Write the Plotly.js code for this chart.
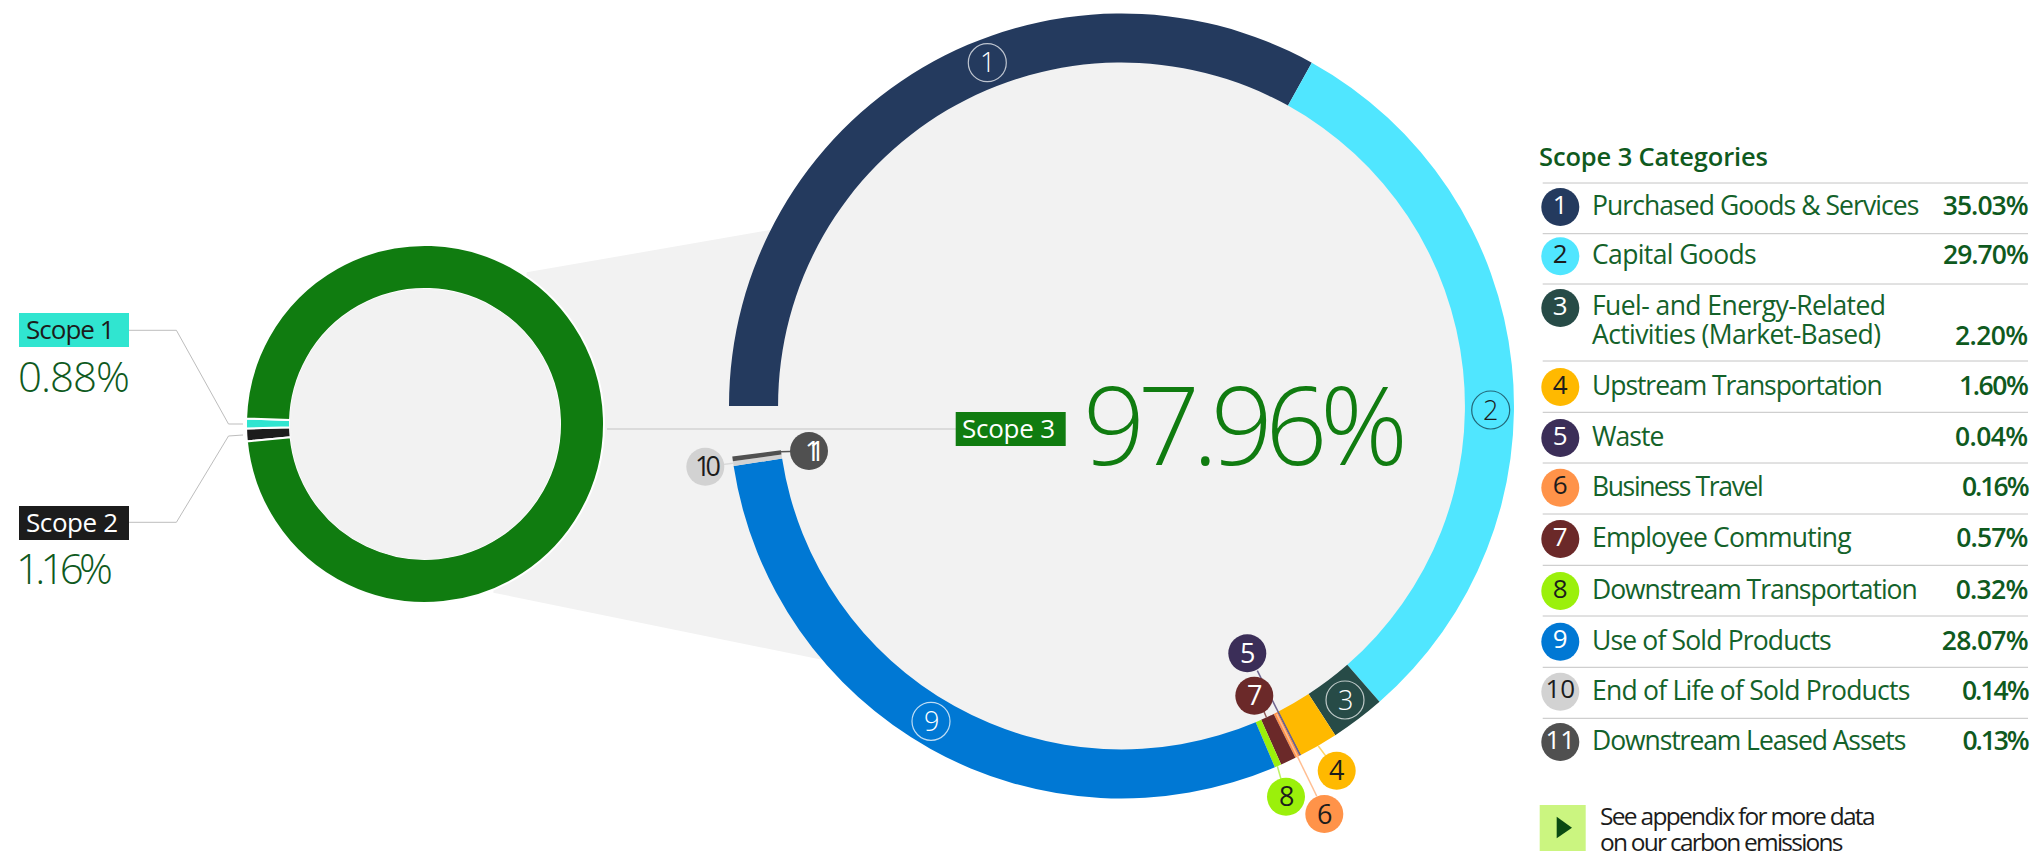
<!DOCTYPE html>
<html>
<head>
<meta charset="utf-8">
<script src="https://cdn.plot.ly/plotly-3.0.1.min.js"></script>
<style>html,body{margin:0;padding:0;background:#fff}#chart{width:2031px;height:853px}</style>
</head>
<body>
<div id="chart"></div>
<script>
// ---- Data ----
const scopeLabels = ['Scope 2', 'Scope 1', 'Scope 3'];
const scopeValues = [1.16, 0.88, 97.96];
const scopeColors = ['#1C1C1C', '#30E5D0', '#107C10'];

const categoryNames = ['Purchased Goods & Services', 'Capital Goods', 'Fuel- and Energy-Related<br>Activities (Market-Based)',
  'Upstream Transportation', 'Waste', 'Business Travel', 'Employee Commuting', 'Downstream Transportation',
  'Use of Sold Products', 'End of Life of Sold Products', 'Downstream Leased Assets'];
const categoryLabels = ['35.03%', '29.70%', '2.20%', '1.60%', '0.04%', '0.16%', '0.57%', '0.32%', '28.07%', '0.14%', '0.13%'];
const categoryNumbers = ['1', '2', '3', '4', '5', '6', '7', '8', '9', '10', '11'];
const categoryColors = ['#243A5E', '#50E6FF', '#274B47', '#FFB900', '#3B2E58', '#FF9349', '#6B2929', '#9BF00B', '#0078D4', '#D2D2D2', '#505050'];
const numberColors = ['#fff', '#1c1c1c', '#fff', '#1c1c1c', '#fff', '#1c1c1c', '#fff', '#1c1c1c', '#fff', '#1c1c1c', '#fff'];
// Arc length each slice actually occupies in the drawn ring (degrees)
const categoryArcs = [119, 109.9, 8.1, 5.8, 0.2, 0.7, 2.3, 1.0, 104.2, 0.7, 0.7];
const ringGap = 7.4;

// ---- Layout (pixels) ----
const W = 2031, H = 853;
const bigC = {x: 1121.5, y: 406, r: 392.5}, leftC = {x: 425, y: 424, r: 179};
const dom = c => ({x: [(c.x - c.r) / W, (c.x + c.r) / W], y: [1 - (c.y + c.r) / H, 1 - (c.y - c.r) / H]});
const legendRowY = [207, 256.3, 308, 387, 438, 487.7, 539, 591, 641.7, 691.7, 742];
const legendX = 1560.3;
const ruleY = [183, 233.7, 284, 361, 412.3, 463, 514, 565.3, 616, 667.3, 718.3];
const nameTargets = [[325.3], [162.7], [292, 287], [288.7], [70.3], [169.7], [257.7], [323.7], [237.7], [316.3], [312.3]];
const valueTargets = [85, 84.7, 72.3, 69, 72.3, 66.7, 71.3, 71.7, 85.7, 66.7, 66.3];
const valueY = [207, 256.3, 337, 387, 438, 487.7, 539, 591, 641.7, 691.7, 742];
const nameY = [[207], [256.3], [306.7, 336], [387], [438], [487.7], [539], [591], [641.7], [691.7], [742]];
const badges = [[987.3, 62.7], [1490.7, 410], [1345, 700], [1336.7, 770.7], [1247.3, 653.3], [1324.3, 814], [1254.3, 695.7], [1286, 796.7], [931, 721.3], [705.3, 466.7], [809, 451]];
const ringBadges = {0: 'rgba(255,255,255,.7)', 1: 'rgba(20,60,75,.75)', 2: 'rgba(255,255,255,.7)', 8: 'rgba(255,255,255,.75)'};
const leaders = [
  [3, 1318.3, 746, 1336.7, 770.7, '#FFD466'],
  [4, 1257.3, 670.7, 1300, 755, '#6F6690'],
  [5, 1276.7, 714, 1316.7, 796, '#FFBE92'],
  [6, 1263.3, 710, 1266.7, 718, '#8E5A5A'],
  [7, 1277.3, 766, 1286, 796.7, '#BFF266'],
  [9, 733, 463.3, 705.3, 466.7, '#DADADA'],
  [10, 780, 451.7, 809, 451, '#555555']
];

// ---- Helpers ----
const FONT = '"Open Sans"';
const ctx = document.createElement('canvas').getContext('2d');
const anns = [], css = [];
function txt(t, x, y, size, color, opt) {
  opt = opt || {};
  const anchor = opt.anchor || 'left', weight = opt.weight || 400;
  if (opt.target) {
    ctx.font = weight + ' ' + size + 'px ' + FONT;
    const ls = (opt.target - ctx.measureText(t).width) / Math.max(1, t.length - 1);
    css.push('.annotation[data-index="' + anns.length + '"] .annotation-text{letter-spacing:' + ls.toFixed(3) + 'px}');
  }
  anns.push({text: t, x: x, y: y, xref: 'x', yref: 'y', xanchor: anchor, yanchor: 'middle', align: anchor,
    showarrow: false, borderpad: 0, borderwidth: 0,
    font: {family: FONT, size: size, color: color, weight: weight}});
}
const shapes = [];
const poly = (d, fill, layer) => shapes.push({type: 'path', path: d, fillcolor: fill, line: {width: 0}, layer: layer, xref: 'x', yref: 'y'});
const rect = (x0, y0, x1, y1, fill) => shapes.push({type: 'rect', x0, y0, x1, y1, fillcolor: fill, line: {width: 0}, layer: 'above', xref: 'x', yref: 'y'});
const line = (d, color, w, layer) => shapes.push({type: 'path', path: d, line: {color: color, width: w}, layer: layer || 'above', xref: 'x', yref: 'y'});
const disc = (cx, cy, r, fill, stroke, w, layer) => shapes.push({type: 'circle', x0: cx - r, x1: cx + r, y0: cy - r, y1: cy + r, fillcolor: fill, line: {color: stroke || 'rgba(0,0,0,0)', width: w || 0}, layer: layer || 'above', xref: 'x', yref: 'y'});

// background: wedge + two discs
poly('M526.7,272.3 L770,230 L823.3,660 L493.3,592.7 Z', '#F2F2F2', 'below');
disc(bigC.x, bigC.y, 360, '#F2F2F2', null, 0, 'below');
disc(leftC.x, leftC.y, 140, '#F2F2F2', null, 0, 'below');
// soften the pie's inner white outline into the grey disc
disc(leftC.x, leftC.y, 134.5, 'rgba(0,0,0,0)', '#F2F2F2', 1.6);

// scope callouts
line('M129,330.3 L176.4,330.3 L228.5,424 L243,424', '#BDBDBD', 1);
line('M129,522.3 L176.4,522.3 L228.5,436 L243,435', '#BDBDBD', 1);
line('M607,429 L956,429', '#C4C4C4', 1);
rect(19, 313, 129, 347, '#30E5D0');
rect(19, 506, 129, 540, '#1C1C1C');
rect(955.7, 412, 1065.7, 446, '#107C10');
txt('Scope 1', 25.5, 329, 26, '#1c1c1c', {target: 88.6});
txt('Scope 2', 25.5, 522, 26, '#ffffff', {target: 92});
txt('Scope 3', 961.5, 428, 26, '#ffffff', {target: 93});
txt('0.88%', 17.5, 375, 42, '#0F5A1E', {target: 112, weight: 350});
txt('1.16%', 16, 567, 42, '#0F5A1E', {target: 97, weight: 350});
txt('97.96%', 1083, 422, 109, '#107C10', {target: 325, weight: 350});

// leaders then badges on the ring
leaders.forEach(l => line('M' + l[1] + ',' + l[2] + ' L' + l[3] + ',' + l[4], l[5], 1.5));
badges.forEach((b, i) => {
  if (ringBadges[i]) {
    disc(b[0], b[1], 19, 'rgba(0,0,0,0)', ringBadges[i], 1.2);
  } else {
    disc(b[0], b[1], 19, categoryColors[i]);
  }
  txt(categoryNumbers[i], b[0], b[1] - 1, 27, numberColors[i], {anchor: 'center', target: i === 9 ? 26 : (i === 10 ? 20 : null), weight: ringBadges[i] ? 300 : 400});
});

// table
txt('Scope 3 Categories', 1538.5, 155.5, 25.5, '#0F5A1E', {target: 229, weight: 600});
ruleY.forEach(y => line('M1542.7,' + y + ' L2028,' + y, '#C4C4C4', 1, 'below'));
categoryNames.forEach((n, i) => {
  n.split('<br>').forEach((part, j) => txt(part, 1592, nameY[i][j] - 2, 26.5, '#14622A', {target: nameTargets[i][j] + 2}));
  txt(categoryLabels[i], 2028, valueY[i] - 2, 26.5, '#0F5A1E', {anchor: 'right', weight: 600, target: valueTargets[i] + 1});
});

// appendix note
rect(1539.7, 805, 1585.7, 851, '#CBF580');
poly('M1556.7,816.7 L1572,827.7 L1556.7,838.3 Z', '#0A4A12', 'above');
txt('See appendix for more data', 1599.7, 815.5, 24.5, '#1c1c1c', {target: 275.5});
txt('on our carbon emissions', 1599.7, 841.5, 24.5, '#1c1c1c', {target: 243.5});

const st = document.createElement('style');
st.textContent = css.join('\n');
document.head.appendChild(st);

const pieBase = {type: 'pie', sort: false, direction: 'clockwise', textinfo: 'none', hoverinfo: 'skip', showlegend: false};
const data = [
  {type: 'scatter', mode: 'markers+text', x: legendRowY.map(() => legendX), y: legendRowY, text: categoryNumbers,
    textposition: 'middle center', textfont: {family: FONT, size: 26, color: numberColors},
    marker: {size: 38, color: categoryColors, line: {width: 0}}, hoverinfo: 'skip', showlegend: false, cliponaxis: false},
  Object.assign({}, pieBase, {labels: scopeLabels, values: scopeValues, rotation: 264.4, hole: 135 / 179, domain: dom(leftC),
    marker: {colors: scopeColors, line: {color: '#ffffff', width: 2}}}),
  Object.assign({}, pieBase, {labels: categoryNumbers.concat(['gap']), values: categoryArcs.concat([ringGap]), rotation: 270, hole: 0.875, domain: dom(bigC),
    marker: {colors: categoryColors.concat(['rgba(0,0,0,0)']), line: {width: 0}}})
];
const layout = {
  width: W, height: H, margin: {l: 0, r: 0, t: 0, b: 0}, autosize: false,
  paper_bgcolor: '#ffffff', plot_bgcolor: 'rgba(0,0,0,0)', showlegend: false,
  xaxis: {range: [0, W], visible: false, fixedrange: true},
  yaxis: {range: [H, 0], visible: false, fixedrange: true},
  shapes: shapes, annotations: anns
};
Plotly.newPlot('chart', data, layout, {displayModeBar: false, staticPlot: true});
</script>
</body>
</html>
